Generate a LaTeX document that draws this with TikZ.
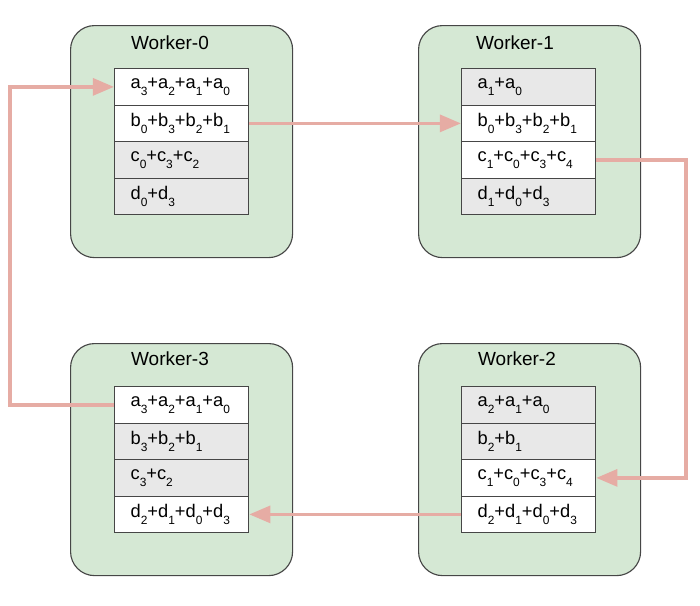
\documentclass[tikz,border=0pt]{standalone}
\usepackage{fontspec}
\setmainfont{Liberation Sans}
\usepackage{tikz}
\usetikzlibrary{arrows.meta}

\definecolor{workergreen}{RGB}{213,232,212}
\definecolor{cellgray}{RGB}{232,232,232}
\definecolor{ringpink}{RGB}{230,172,164}
\definecolor{edgegray}{RGB}{70,70,70}

\newcommand{\wsub}[2]{#1\raisebox{-5pt}{\fontsize{8.5}{9}\selectfont #2}}

\begin{document}
\begin{tikzpicture}[x=0.025cm,y=-0.025cm,
        worker/.style={draw=edgegray,fill=workergreen,line width=0.8pt,rounded corners=0.6cm,
            minimum width=5.55cm,minimum height=5.8cm,anchor=north west},
        wtitle/.style={font=\fontsize{13.5}{15}\selectfont},
        wcell/.style={draw=edgegray,line width=0.9pt,minimum width=3.35cm,minimum height=0.9125cm,
            inner xsep=0.4cm,inner ysep=0pt,text width=2.55cm,align=left,anchor=north west,
            font=\fontsize{13}{15}\selectfont},
        wfull/.style={wcell,fill=white},
        wpart/.style={wcell,fill=cellgray},
        ringarrow/.style={draw=ringpink,line width=2.4pt,-{Triangle[length=15pt,width=12pt]}}]
        \useasboundingbox (0,0) rectangle (700,606);

        \node[worker] (w0) at (70,25) {};
        \node[worker] (w1) at (418,25) {};
        \node[worker] (w2) at (418,343) {};
        \node[worker] (w3) at (70,343) {};

        \node[wtitle] (t0) at (170,43) {Worker-0};
        \node[wtitle] (t1) at (515,43) {Worker-1};
        \node[wtitle] (t2) at (517,359) {Worker-2};
        \node[wtitle] (t3) at (170,359) {Worker-3};

        \node[wfull] (w0a) at (114,68) {\wsub{a}{3}+\wsub{a}{2}+\wsub{a}{1}+\wsub{a}{0}};
        \node[wfull] (w0b) at (114,104.5) {\wsub{b}{0}+\wsub{b}{3}+\wsub{b}{2}+\wsub{b}{1}};
        \node[wpart] (w0c) at (114,141) {\wsub{c}{0}+\wsub{c}{3}+\wsub{c}{2}};
        \node[wpart] (w0d) at (114,177.5) {\wsub{d}{0}+\wsub{d}{3}};

        \node[wpart] (w1a) at (461,68) {\wsub{a}{1}+\wsub{a}{0}};
        \node[wfull] (w1b) at (461,104.5) {\wsub{b}{0}+\wsub{b}{3}+\wsub{b}{2}+\wsub{b}{1}};
        \node[wfull] (w1c) at (461,141) {\wsub{c}{1}+\wsub{c}{0}+\wsub{c}{3}+\wsub{c}{4}};
        \node[wpart] (w1d) at (461,177.5) {\wsub{d}{1}+\wsub{d}{0}+\wsub{d}{3}};

        \node[wpart] (w2a) at (461,386) {\wsub{a}{2}+\wsub{a}{1}+\wsub{a}{0}};
        \node[wpart] (w2b) at (461,422.5) {\wsub{b}{2}+\wsub{b}{1}};
        \node[wfull] (w2c) at (461,459) {\wsub{c}{1}+\wsub{c}{0}+\wsub{c}{3}+\wsub{c}{4}};
        \node[wfull] (w2d) at (461,495.5) {\wsub{d}{2}+\wsub{d}{1}+\wsub{d}{0}+\wsub{d}{3}};

        \node[wfull] (w3a) at (114,386) {\wsub{a}{3}+\wsub{a}{2}+\wsub{a}{1}+\wsub{a}{0}};
        \node[wpart] (w3b) at (114,422.5) {\wsub{b}{3}+\wsub{b}{2}+\wsub{b}{1}};
        \node[wpart] (w3c) at (114,459) {\wsub{c}{3}+\wsub{c}{2}};
        \node[wfull] (w3d) at (114,495.5) {\wsub{d}{2}+\wsub{d}{1}+\wsub{d}{0}+\wsub{d}{3}};

        \coordinate (ringleft) at (10,250);
        \coordinate (ringright) at (686,320);

        \path [ringarrow](w3a.west) -| (ringleft) |- (w0a.west);
        \path [ringarrow](w0b.east) -- (w1b.west);
        \path [ringarrow](w1c.east) -| (ringright) |- (w2c.east);
        \path [ringarrow](w2d.west) -- (w3d.east);
    \end{tikzpicture}
\end{document}
